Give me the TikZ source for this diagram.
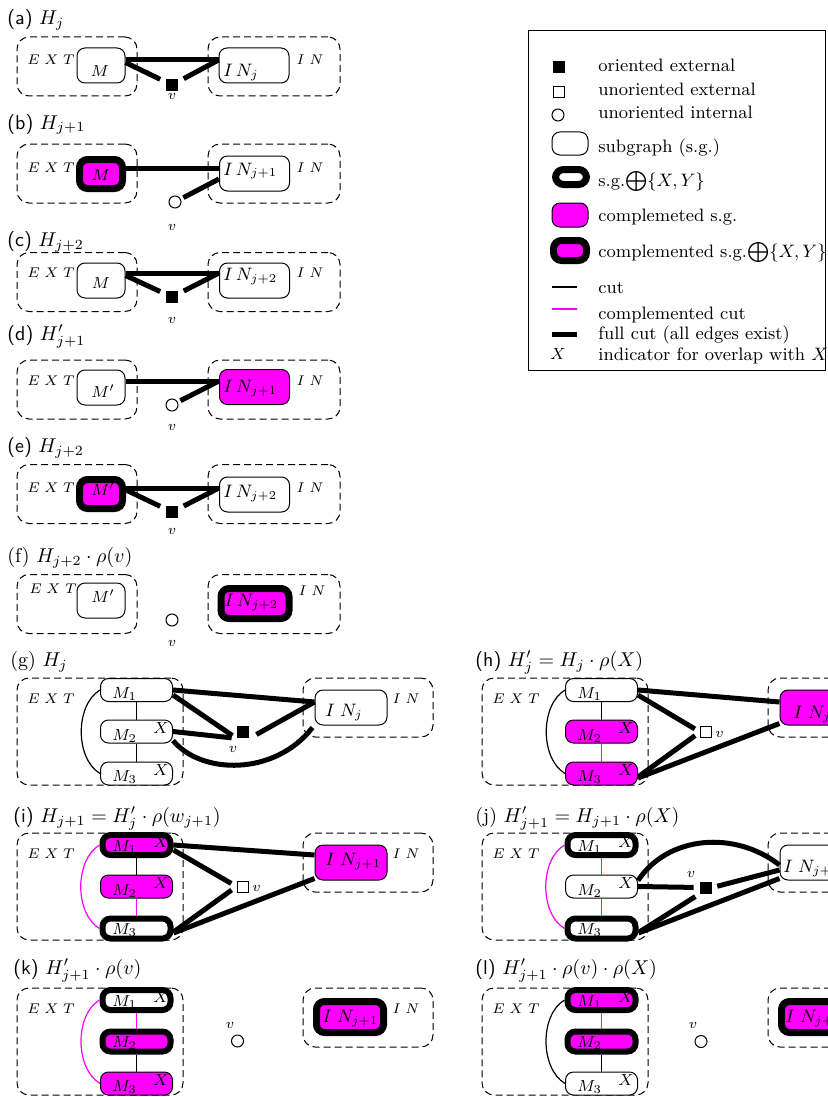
\documentclass[tikz,border=0pt]{standalone}
\definecolor{CompClr}{RGB}{255,0,255}
\tikzset{
  regbox/.style={draw, dash pattern=on 3.5pt off 2pt, rounded corners=6pt, line width=0.5pt, inner sep=0pt},
  sg/.style={draw, rounded corners=4pt, line width=0.5pt, fill=white, inner sep=0pt},
  sgx/.style={sg, line width=3.5pt},
  csg/.style={sg, fill=CompClr},
  csgx/.style={sgx, fill=CompClr},
  msz/.style={minimum width=24pt, minimum height=17.5pt},
  mszx/.style={minimum width=21.5pt, minimum height=14.5pt},
  insz/.style={minimum width=35pt, minimum height=17.5pt},
  inszx/.style={minimum width=34pt, minimum height=15pt},
  misz/.style={minimum width=36pt, minimum height=11.5pt},
  miszx/.style={minimum width=34pt, minimum height=10pt, line width=3pt},
  bigin/.style={minimum width=36pt, minimum height=17.5pt},
  biginx/.style={minimum width=33.5pt, minimum height=15.5pt},
  smallbox/.style={regbox, minimum height=29.5pt},
  fullcut/.style={line width=2.5pt},
  cut/.style={line width=0.6pt},
  ccut/.style={cut, color=CompClr},
  oext/.style={fill=black, minimum size=6pt, inner sep=0pt},
  uext/.style={draw, fill=white, minimum size=5.5pt, inner sep=0pt, line width=0.5pt},
  uint/.style={circle, draw, fill=white, minimum size=6pt, inner sep=0pt, line width=0.5pt},
  lbl/.style={inner sep=0pt},
  ttl/.style={anchor=base west, inner sep=0pt},
  legtxt/.style={anchor=base west, inner sep=0pt, font=\fontsize{9}{11}\selectfont},
}

\begin{document}
\begin{tikzpicture}[x=0.5pt,y=-0.5pt]
\useasboundingbox (0,0) rectangle (828,1097);
\clip (0,0) rectangle (828,1097);

% legend
\node[draw, line width=0.5pt, minimum width=148.5pt, minimum height=170pt, anchor=north west, inner sep=0pt] (leg) at (528,30) {};
\node[oext] (legOE) at (558.5,67) {};
\node[uext] (legUE) at (558.5,92) {};
\node[uint] (legUI) at (558,115) {};
\node[sg, minimum width=18pt, minimum height=11.5pt] (legSG) at (570,143.5) {};
\node[sgx, minimum width=15.5pt, minimum height=7.5pt] (legSGX) at (571,177) {};
\node[csg, minimum width=18pt, minimum height=12pt] (legCSG) at (570,215) {};
\node[csgx, minimum width=16.5pt, minimum height=10pt] (legCSGX) at (570,250.5) {};
\coordinate (legCa) at (552,287); \coordinate (legCb) at (577,287);
\coordinate (legCCa) at (552,309); \coordinate (legCCb) at (577,309);
\coordinate (legFCa) at (552,334); \coordinate (legFCb) at (577,334);
\draw[cut] (legCa) -- (legCb);
\draw[ccut] (legCCa) -- (legCCb);
\draw[fullcut] (legFCa) -- (legFCb);
\node[lbl, anchor=base] (legX) at (558,359) {\footnotesize$X$};
\node[legtxt] (legT1) at (598,72) {oriented external};
\node[legtxt] (legT2) at (598,96) {unoriented external};
\node[legtxt] (legT3) at (598,119) {unoriented internal};
\node[legtxt] (legT4) at (598,152) {subgraph (s.g.)};
\node[legtxt] (legT5) at (598,186) {s.g.$\bigoplus\{X, Y\}$};
\node[legtxt] (legT6) at (598,221) {complemeted s.g.};
\node[legtxt] (legT7) at (598,257) {complemented s.g.$\bigoplus\{X, Y\}$};
\node[legtxt] (legT8) at (598,293) {cut};
\node[legtxt] (legT9) at (598,319) {complemented cut};
\node[legtxt] (legT10) at (598,339) {full cut (all edges exist)};
\node[legtxt] (legT11) at (598,360) {indicator for overlap with $X$};

% (a)
\node[ttl] (tA) at (7,25) {\textsf{(a)} $H_j$};
\node[smallbox, minimum width=60pt] (aEXT) at (77,66.5) {};
\node[smallbox, minimum width=66pt] (aINb) at (274,66.5) {};
\node[lbl, anchor=base] (aEXTl) at (51,65) {\scriptsize$E\;X\;T$};
\node[lbl, anchor=base] (aINbl) at (310,65) {\scriptsize$I\;N$};
\node[sg, msz] (aM) at (101,65.5) {};
\node[sg, insz] (aIN) at (254,65.5) {};
\node[oext] (av) at (172,85) {};
\node[lbl, anchor=base] (aMl) at (100,77) {\footnotesize$M$};
\node[lbl, anchor=base west] (aINl) at (223,77) {\small$I\,N_j$};
\node[lbl, anchor=base] (avl) at (172,100) {\scriptsize$v$};
\draw[fullcut] ([yshift=2.75pt]aM.east) -- ([yshift=2.75pt]aIN.west);
\draw[fullcut, shorten >=3pt] ([yshift=1.5pt]aM.east) -- (av);
\draw[fullcut, shorten >=3pt] ([yshift=2.75pt]aIN.west) -- (av);

% (b)
\node[ttl] (tB) at (7,129) {\textsf{(b)} $H_{j+1}$};
\node[smallbox, minimum width=60pt] (bEXT) at (77,173.5) {};
\node[smallbox, minimum width=66pt] (bINb) at (274,173.5) {};
\node[lbl, anchor=base] (bEXTl) at (51,172) {\scriptsize$E\;X\;T$};
\node[lbl, anchor=base] (bINbl) at (310,172) {\scriptsize$I\;N$};
\node[csgx, mszx] (bM) at (101,174) {};
\node[sg, insz] (bIN) at (254.5,173.5) {};
\node[uint] (bv) at (175,202) {};
\node[lbl, anchor=base] (bMl) at (101,180) {\footnotesize$M$};
\node[lbl, anchor=base west] (bINl) at (223,175) {\small$I\,N_{j+1}$};
\node[lbl, anchor=base] (bvl) at (172,230) {\scriptsize$v$};
\draw[fullcut] ([yshift=3pt]bM.east) -- ([yshift=2.75pt]bIN.west);
\draw[fullcut, shorten >=1.5pt] ([yshift=-2.75pt]bIN.west) -- (bv);

% (c)
\node[ttl] (tC) at (7,246) {\textsf{(c)} $H_{j+2}$};
\node[smallbox, minimum width=60pt] (cEXT) at (77,282) {};
\node[smallbox, minimum width=66pt] (cINb) at (274,282) {};
\node[lbl, anchor=base] (cEXTl) at (51,277) {\scriptsize$E\;X\;T$};
\node[lbl, anchor=base] (cINbl) at (310,277) {\scriptsize$I\;N$};
\node[sg, msz] (cM) at (101,280.5) {};
\node[sg, insz] (cIN) at (254.5,280.5) {};
\node[oext] (cv) at (172,297) {};
\node[lbl, anchor=base] (cMl) at (101,288) {\footnotesize$M$};
\node[lbl, anchor=base west] (cINl) at (223,280) {\small$I\,N_{j+2}$};
\node[lbl, anchor=base] (cvl) at (172,323) {\scriptsize$v$};
\draw[fullcut] ([yshift=3.75pt]cM.east) -- ([yshift=3.75pt]cIN.west);
\draw[fullcut, shorten >=3pt] ([yshift=2.5pt]cM.east) -- (cv);
\draw[fullcut, shorten >=3pt] ([yshift=3.75pt]cIN.west) -- (cv);

% (d)
\node[ttl] (tD) at (7,340) {\textsf{(d)} $H'_{j+1}$};
\node[smallbox, minimum width=60pt] (dEXT) at (77,389.5) {};
\node[smallbox, minimum width=66pt] (dINb) at (274,389.5) {};
\node[lbl, anchor=base] (dEXTl) at (51,385) {\scriptsize$E\;X\;T$};
\node[lbl, anchor=base] (dINbl) at (310,385) {\scriptsize$I\;N$};
\node[sg, msz] (dM) at (101,387.5) {};
\node[csg, insz] (dIN) at (254.5,387) {};
\node[uint] (dv) at (172,405) {};
\node[lbl, anchor=base] (dMl) at (103,397) {\footnotesize$M'$};
\node[lbl, anchor=base west] (dINl) at (223,392) {\small$I\,N_{j+1}$};
\node[lbl, anchor=base] (dvl) at (172,430) {\scriptsize$v$};
\draw[fullcut] ([yshift=3.25pt]dM.east) -- ([yshift=3pt]dIN.west);
\draw[fullcut, shorten >=1.5pt] ([yshift=3pt]dIN.west) -- (dv);

% (e)
\node[ttl] (tE) at (7,452) {\textsf{(e)} $H_{j+2}$};
\node[smallbox, minimum width=60pt] (eEXT) at (77,494) {};
\node[smallbox, minimum width=66pt] (eINb) at (274,494) {};
\node[lbl, anchor=base] (eEXTl) at (51,492) {\scriptsize$E\;X\;T$};
\node[lbl, anchor=base] (eINbl) at (310,492) {\scriptsize$I\;N$};
\node[csgx, mszx] (eM) at (101,494) {};
\node[sg, insz] (eIN) at (254.5,494.5) {};
\node[oext] (ev) at (172,512) {};
\node[lbl, anchor=base] (eMl) at (103,495) {\footnotesize$M'$};
\node[lbl, anchor=base west] (eINl) at (223,497) {\small$I\,N_{j+2}$};
\node[lbl, anchor=base] (evl) at (172,534) {\scriptsize$v$};
\draw[fullcut] ([yshift=3pt]eM.east) -- ([yshift=3.25pt]eIN.west);
\draw[fullcut, shorten >=3pt] ([yshift=2pt]eM.east) -- (ev);
\draw[fullcut, shorten >=3pt] ([yshift=3.25pt]eIN.west) -- (ev);

% (f)
\node[ttl] (tF) at (7,562) {(f) $H_{j+2}\cdot\rho(v)$};
\node[smallbox, minimum width=60pt] (fEXT) at (77,604) {};
\node[smallbox, minimum width=66pt] (fINb) at (274,604) {};
\node[lbl, anchor=base] (fEXTl) at (53,593) {\scriptsize$E\;X\;T$};
\node[lbl, anchor=base] (fINbl) at (312,595) {\scriptsize$I\;N$};
\node[sg, msz] (fM) at (101,600.5) {};
\node[csgx, inszx] (fIN) at (255,603.5) {};
\node[uint] (fv) at (172,620) {};
\node[lbl, anchor=base] (fMl) at (103,602) {\footnotesize$M'$};
\node[lbl, anchor=base west] (fINl) at (224,606) {\small$I\,N_{j+2}$};
\node[lbl, anchor=base] (fvl) at (172,646) {\scriptsize$v$};

% (g)
\node[ttl] (tG) at (10,666) {(g) $H_j$};
\begin{scope}
\node[regbox, minimum width=83pt, minimum height=53.5pt] (gEXT) at (100,731.5) {};
\node[regbox, minimum width=65pt, minimum height=29.5pt] (gINb) at (368,707.5) {};
\node[lbl, anchor=base] (gEXTl) at (51,703) {\scriptsize$E\;X\;T$};
\node[lbl, anchor=base] (gINbl) at (406,703) {\scriptsize$I\;N$};
\node[sg, misz] (gM1) at (136.5,690) {};
\node[sg, misz] (gM2) at (136.5,731.5) {};
\node[sg, misz] (gM3) at (136.5,773.5) {};
\node[sg, bigin] (gIN) at (351,707.5) {};
\node[oext] (gv) at (243,732) {};
\draw[cut] (gM1.south) -- (gM2.north);
\draw[cut] (gM2.south) -- (gM3.north);
\draw[cut] (gM1.west) .. controls +(-25,15) and +(-25,-15) .. (gM3.west);
\node[lbl, anchor=base west] (gM1l) at (112,698) {\footnotesize$M_1$};
\node[lbl, anchor=base west] (gM2l) at (112,740) {\footnotesize$M_2$};
\node[lbl, anchor=base west] (gM3l) at (112,781) {\footnotesize$M_3$};
\node[lbl, anchor=base west] (gX2) at (153,733) {\footnotesize$X$};
\node[lbl, anchor=base west] (gX3) at (153,775) {\footnotesize$X$};
\node[lbl, anchor=base west] (gINl) at (325,716) {\small$I\;N_j$};
\node[lbl, anchor=base] (gvl) at (233,752) {\scriptsize$v$};
\draw[fullcut] (gM1.east) -- ([yshift=2.75pt]gIN.west);
\draw[fullcut, shorten >=2.5pt] ([yshift=-2.5pt]gM1.east) -- (gv.south west);
\draw[fullcut, shorten >=2.5pt] (gM2.east) -- (gv.south west);
\draw[fullcut, shorten >=4pt] ([yshift=2.75pt]gIN.west) -- (gv.south east);
\draw[fullcut] ([yshift=-4.5pt]gM2.east) .. controls +(28,34) and +(-38,49) .. ([xshift=-1pt,yshift=-1pt]gIN.south west);
\end{scope}

% (h)
\node[ttl] (tH) at (475,666) {\textsf{(h)} $H'_j = H_j\cdot\rho(X)$};
\begin{scope}[shift={(465,0)}]
\node[regbox, minimum width=83pt, minimum height=53.5pt] (hEXT) at (100,731.5) {};
\node[regbox, minimum width=65pt, minimum height=29.5pt] (hINb) at (368,707.5) {};
\node[lbl, anchor=base] (hEXTl) at (51,703) {\scriptsize$E\;X\;T$};
\node[sg, misz] (hM1) at (136.5,690) {};
\node[csg, misz] (hM2) at (136.5,731.5) {};
\node[csg, misz] (hM3) at (136.5,773.5) {};
\node[csg, bigin] (hIN) at (351,707.5) {};
\node[uext] (hv) at (241,732) {};
\draw[cut] (hM1.south) -- (hM2.north);
\draw[ccut] (hM2.south) -- (hM3.north);
\draw[cut] (hM1.west) .. controls +(-25,15) and +(-25,-15) .. (hM3.west);
\node[lbl, anchor=base west] (hM1l) at (112,698) {\footnotesize$M_1$};
\node[lbl, anchor=base west] (hM2l) at (112,740) {\footnotesize$M_2$};
\node[lbl, anchor=base west] (hM3l) at (112,781) {\footnotesize$M_3$};
\node[lbl, anchor=base west] (hX2) at (153,733) {\footnotesize$X$};
\node[lbl, anchor=base west] (hX3) at (153,775) {\footnotesize$X$};
\node[lbl, anchor=base west] (hINl) at (328,718) {\small$I\;N_j$};
\node[lbl, anchor=base west] (hvl) at (250,737) {\scriptsize$v$};
\draw[fullcut] (hM1.east) -- ([yshift=2.75pt]hIN.west);
\draw[fullcut, shorten >=3pt] ([yshift=-2.5pt]hM1.east) -- (hv.west);
\draw[fullcut, shorten >=3pt] ([yshift=-1.75pt]hM3.east) -- (hv.west);
\draw[fullcut] ([yshift=-2.25pt]hM3.east) -- ([yshift=1pt]hIN.south west);
\end{scope}

% (i)
\node[ttl] (tI) at (13,822) {\textsf{(i)} $H_{j+1} = H'_j\cdot\rho(w_{j+1})$};
\begin{scope}[shift={(0,155)}]
\node[regbox, minimum width=83pt, minimum height=53.5pt] (iEXT) at (100,731.5) {};
\node[regbox, minimum width=65pt, minimum height=29.5pt] (iINb) at (368,707.5) {};
\node[lbl, anchor=base] (iEXTl) at (51,703) {\scriptsize$E\;X\;T$};
\node[lbl, anchor=base] (iINbl) at (406,703) {\scriptsize$I\;N$};
\node[csgx, miszx] (iM1) at (136.5,690) {};
\node[csg, misz] (iM2) at (136.5,731.5) {};
\node[sgx, miszx] (iM3) at (136.5,773.5) {};
\node[csg, bigin] (iIN) at (351,707.5) {};
\node[uext] (iv) at (242.5,731.5) {};
\draw[cut] (iM1.south) -- (iM2.north);
\draw[ccut] (iM2.south) -- (iM3.north);
\draw[ccut] (iM1.west) .. controls +(-25,15) and +(-25,-15) .. (iM3.west);
\node[lbl, anchor=base west] (iM1l) at (112,696) {\footnotesize$M_1$};
\node[lbl, anchor=base west] (iM2l) at (112,740) {\footnotesize$M_2$};
\node[lbl, anchor=base west] (iM3l) at (112,779.5) {\footnotesize$M_3$};
\node[lbl, anchor=base west] (iX1) at (153,692) {\footnotesize$X$};
\node[lbl, anchor=base west] (iX2) at (153,733) {\footnotesize$X$};
\node[lbl, anchor=base west] (iINl) at (325,710) {\small$I\;N_{j+1}$};
\node[lbl, anchor=base west] (ivl) at (252,736) {\scriptsize$v$};
\draw[fullcut] (iM1.east) -- ([yshift=3.75pt]iIN.west);
\draw[fullcut, shorten >=3pt] ([yshift=-2.5pt]iM1.east) -- (iv.west);
\draw[fullcut, shorten >=3pt] ([yshift=-1.75pt]iM3.east) -- (iv.west);
\draw[fullcut] ([yshift=-2.25pt]iM3.east) -- ([yshift=1pt]iIN.south west);
\end{scope}

% (j)
\node[ttl] (tJ) at (475,822) {(j) $H'_{j+1} = H_{j+1}\cdot\rho(X)$};
\begin{scope}[shift={(465,155)}]
\node[regbox, minimum width=83pt, minimum height=53.5pt] (jEXT) at (100,731.5) {};
\node[regbox, minimum width=65pt, minimum height=29.5pt] (jINb) at (368,707.5) {};
\node[lbl, anchor=base] (jEXTl) at (51,703) {\scriptsize$E\;X\;T$};
\node[sgx, miszx] (jM1) at (136.5,690) {};
\node[sg, misz] (jM2) at (136.5,731.5) {};
\node[sgx, miszx] (jM3) at (136.5,773.5) {};
\node[sg, bigin] (jIN) at (351,707.5) {};
\node[oext] (jv) at (241,732.5) {};
\draw[ccut] (jM1.south) -- (jM2.north);
\draw[ccut] (jM2.south) -- (jM3.north);
\draw[ccut] (jM1.west) .. controls +(-25,15) and +(-25,-15) .. (jM3.west);
\node[lbl, anchor=base west] (jM1l) at (112,696) {\footnotesize$M_1$};
\node[lbl, anchor=base west] (jM2l) at (112,740) {\footnotesize$M_2$};
\node[lbl, anchor=base west] (jM3l) at (112,779.5) {\footnotesize$M_3$};
\node[lbl, anchor=base west] (jX1) at (153,692) {\footnotesize$X$};
\node[lbl, anchor=base west] (jX2) at (153,733) {\footnotesize$X$};
\node[lbl, anchor=base west] (jINl) at (318,717) {\small$I\;N_{j+1}$};
\node[lbl, anchor=base] (jvl) at (226,722) {\scriptsize$v$};
\draw[fullcut] ([yshift=3pt]jM2.east) .. controls +(30,-45) and +(-45,-35) .. ([yshift=-1.25pt]jIN.west);
\draw[fullcut, shorten >=3pt] (jM2.east) -- (jv.west);
\draw[fullcut, shorten >=2.5pt] ([yshift=-3.75pt]jIN.west) -- (jv.east);
\draw[fullcut, shorten >=2.5pt] ([yshift=-2pt]jM3.east) -- (jv.south west);
\draw[fullcut] ([yshift=-2.25pt]jM3.east) -- ([yshift=1pt]jIN.south west);
\end{scope}

% (k)
\node[ttl] (tK) at (13,974) {\textsf{(k)} $H'_{j+1}\cdot\rho(v)$};
\begin{scope}[shift={(0,310)}]
\node[regbox, minimum width=83pt, minimum height=53.5pt] (kEXT) at (100,731.5) {};
\node[regbox, minimum width=65pt, minimum height=29.5pt] (kINb) at (368,707.5) {};
\node[lbl, anchor=base] (kEXTl) at (51,703) {\scriptsize$E\;X\;T$};
\node[lbl, anchor=base] (kINbl) at (406,703) {\scriptsize$I\;N$};
\node[sgx, miszx] (kM1) at (136.5,690) {};
\node[csgx, miszx] (kM2) at (136.5,731.5) {};
\node[csg, misz] (kM3) at (136.5,773.5) {};
\node[csgx, biginx] (kIN) at (350,707) {};
\node[uint] (kv) at (237.5,731) {};
\draw[ccut] (kM1.south) -- (kM2.north);
\draw[cut] (kM2.south) -- (kM3.north);
\draw[ccut] (kM1.west) .. controls +(-25,15) and +(-25,-15) .. (kM3.west);
\node[lbl, anchor=base west] (kM1l) at (112,696) {\footnotesize$M_1$};
\node[lbl, anchor=base west] (kM2l) at (112,737.5) {\footnotesize$M_2$};
\node[lbl, anchor=base west] (kM3l) at (112,781) {\footnotesize$M_3$};
\node[lbl, anchor=base west] (kX1) at (153,692) {\footnotesize$X$};
\node[lbl, anchor=base west] (kX3) at (153,775) {\footnotesize$X$};
\node[lbl, anchor=base west] (kINl) at (322,712) {\small$I\;N_{j+1}$};
\node[lbl, anchor=base] (kvl) at (230,718) {\scriptsize$v$};
\end{scope}

% (l)
\node[ttl] (tL) at (475,974) {\textsf{(l)} $H'_{j+1}\cdot\rho(v)\cdot\rho(X)$};
\begin{scope}[shift={(465,310)}]
\node[regbox, minimum width=83pt, minimum height=53.5pt] (lEXT) at (100,731.5) {};
\node[regbox, minimum width=65pt, minimum height=29.5pt] (lINb) at (368,707.5) {};
\node[lbl, anchor=base] (lEXTl) at (51,703) {\scriptsize$E\;X\;T$};
\node[csgx, miszx] (lM1) at (136.5,690) {};
\node[csgx, miszx] (lM2) at (136.5,731.5) {};
\node[sg, misz] (lM3) at (136.5,773.5) {};
\node[csgx, biginx] (lIN) at (350,707) {};
\node[uint] (lv) at (236,731.5) {};
\draw[ccut] (lM1.south) -- (lM2.north);
\draw[cut] (lM2.south) -- (lM3.north);
\draw[cut] (lM1.west) .. controls +(-25,15) and +(-25,-15) .. (lM3.west);
\node[lbl, anchor=base west] (lM1l) at (112,696) {\footnotesize$M_1$};
\node[lbl, anchor=base west] (lM2l) at (112,737.5) {\footnotesize$M_2$};
\node[lbl, anchor=base west] (lM3l) at (112,781) {\footnotesize$M_3$};
\node[lbl, anchor=base west] (lX1) at (153,692) {\footnotesize$X$};
\node[lbl, anchor=base west] (lX3) at (153,775) {\footnotesize$X$};
\node[lbl, anchor=base west] (lINl) at (320,712) {\small$I\;N_{j+1}$};
\node[lbl, anchor=base] (lvl) at (228,718) {\scriptsize$v$};
\end{scope}

\end{tikzpicture}
\end{document}
